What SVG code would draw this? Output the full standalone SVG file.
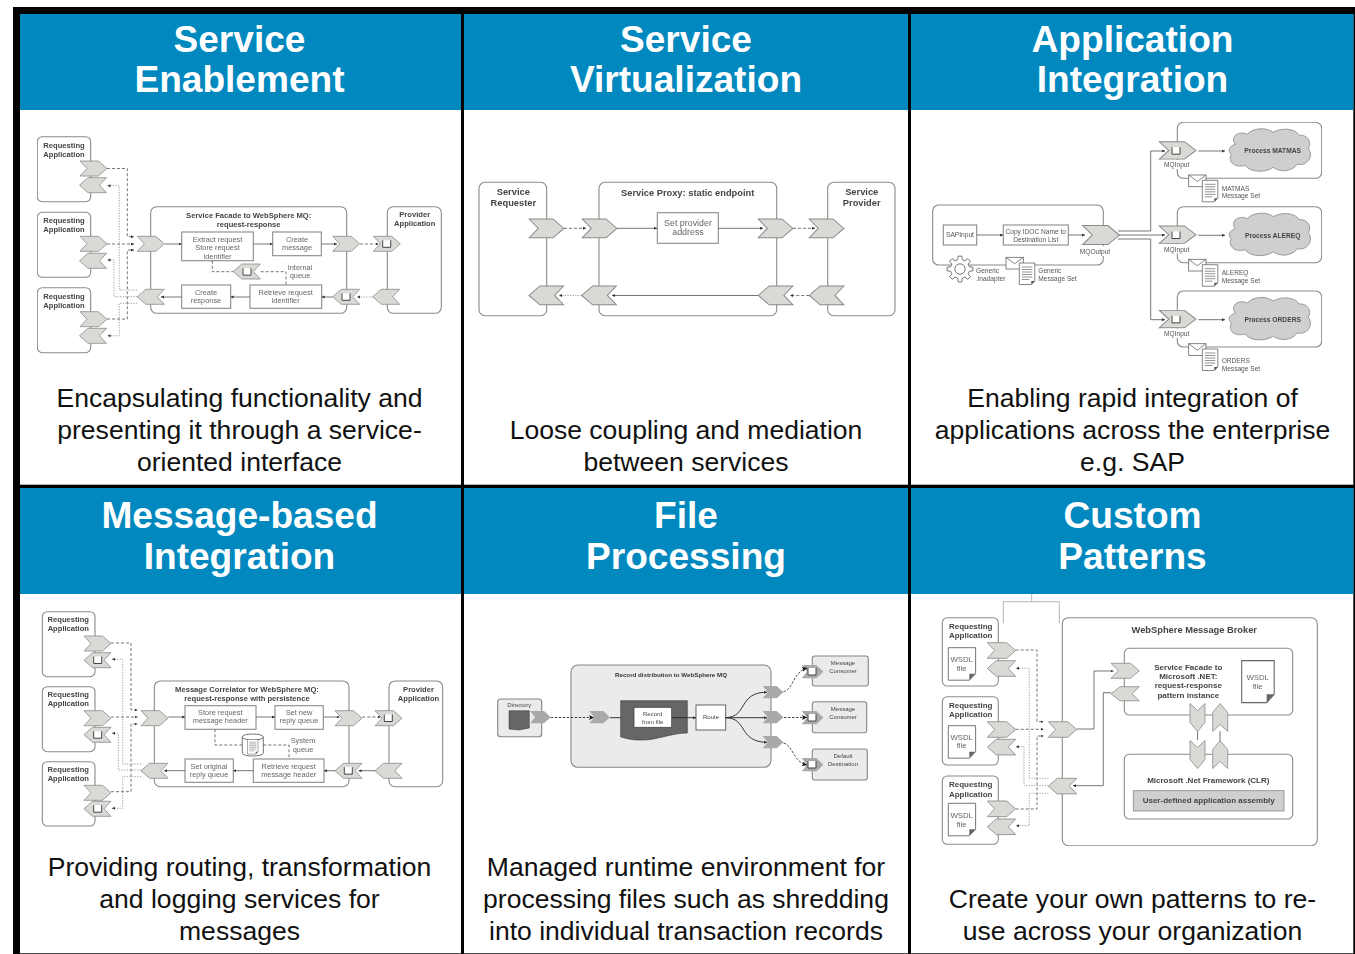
<svg xmlns="http://www.w3.org/2000/svg" width="1355" height="954" viewBox="0 0 1355 954">
<style>
text{font-family:"Liberation Sans",Arial,sans-serif;text-anchor:middle}
.h{font-size:37.1px;font-weight:700;fill:#fff}
.c{font-size:26.55px;fill:#111}
.t{font-size:7.4px;fill:#666}
.b{font-size:7.6px;font-weight:700;fill:#444}
.l{text-anchor:start}
.b2{font-size:9.3px;font-weight:700;fill:#444}
.t2{font-size:8.9px;fill:#666}
.t3{font-size:6.6px;fill:#555}
.b3{font-size:6.7px;font-weight:700;fill:#444}
.t5{font-size:6px;fill:#444}
.b5{font-size:6.2px;font-weight:700;fill:#333}
.b6{font-size:8px;font-weight:700;fill:#444}
.t6{font-size:7.8px;fill:#666}
.box{fill:#fff;stroke:#8a8a8a;stroke-width:1.1}
.lt{fill:#ebebeb;stroke:#858585;stroke-width:1.1}
.ln{fill:none;stroke:#666;stroke-width:.9}
.da{fill:none;stroke:#666;stroke-width:.9;stroke-dasharray:3 2}
.dt{fill:none;stroke:#888;stroke-width:.8;stroke-dasharray:1.2 1.4}
.k{fill:none;stroke:#222;stroke-width:.9}
.kd{fill:none;stroke:#333;stroke-width:.9;stroke-dasharray:2.5 1.5}
.ch{fill:#d9d9d6;stroke:#8a8a8a;stroke-width:.8}
.qi{fill:#fff;stroke:#444;stroke-width:1}
.gc{fill:#a9a9a9}
.cl{fill:#cfcfcf;stroke:#888;stroke-width:.8}
.w{fill:#fff}
</style>
<defs>
<filter id="soft" x="0" y="0" width="100%" height="100%"><feGaussianBlur stdDeviation="0.4"/></filter>
<marker id="a" markerUnits="userSpaceOnUse" markerWidth="4" markerHeight="4" refX="3" refY="1.5" orient="auto"><path d="M0 0L3 1.5L0 3Z" fill="#333"/></marker>
<marker id="A" markerUnits="userSpaceOnUse" markerWidth="6" markerHeight="6" refX="5" refY="2.5" orient="auto"><path d="M0 0L5 2.5L0 5L1.2 2.5Z" fill="#111"/></marker>
<path id="cr" class="ch" d="M0 0H18.5L27 7.5L18.5 15H0L7 7.5Z"/>
<path id="cl" class="ch" d="M27 0H8.5L0 7.5L8.5 15H27L20 7.5Z"/>
<path id="cd" class="ch" d="M0 0L7.5 7L15 0V19L7.5 28L0 19Z"/>
<path id="cu" class="ch" d="M0 28L7.5 21L15 28V9L7.5 0L0 9Z"/>
<path id="cg" class="gc" d="M0 0H14L20.7 6.2L14 12.3H0L5 6.2Z"/>
<path id="q" class="qi" d="M-4 -3.5V3.5H4V-3.5"/>
<g id="env"><rect width="17.3" height="11.7" fill="#fff" stroke="#666" stroke-width=".8"/><path d="M0 0L8.6 6.5L17.3 0" fill="none" stroke="#666" stroke-width=".8"/></g>
<g id="doc"><path d="M0 0H15.5V18L12 21.5H0Z" fill="#fff" stroke="#666" stroke-width=".8"/><path d="M12 21.5L12 18H15.5Z" fill="#555"/><path d="M2.5 4H13M2.5 6.5H13M2.5 9H13M2.5 11.5H13M2.5 14H13M2.5 16.5H10" stroke="#777" stroke-width=".8"/></g>
<g id="wsdl"><path d="M0 0H27.3V26L21 32.5H0Z" fill="#fff" stroke="#666" stroke-width=".9"/><path d="M21 32.5V26H27.3Z" fill="#666"/></g>
<path id="cloud" class="cl" d="M8 16C2 8 12 2 20 6C26 -1 40 -1 46 4C54 -1 68 0 72 7C80 6 85 14 81 20C87 28 80 38 70 36C64 44 52 44 46 39C38 45 22 44 18 37C8 40 0 34 4 26C0 22 2 18 8 16Z"/>
</defs>

<g id="frame">
<rect x="13" y="7" width="1342" height="947" fill="#000"/>
<g fill="#fff">
<rect x="20" y="14" width="441" height="470.7"/>
<rect x="464" y="14" width="444" height="470.7"/>
<rect x="911" y="14" width="442.3" height="470.7"/>
<rect x="20" y="488" width="441" height="465.3"/>
<rect x="464" y="488" width="444" height="465.3"/>
<rect x="911" y="488" width="442.3" height="465.3"/>
</g>
<g fill="#0088bf">
<rect x="20" y="14" width="441" height="96"/>
<rect x="464" y="14" width="444" height="96"/>
<rect x="911" y="14" width="442.3" height="96"/>
<rect x="20" y="488" width="441" height="106"/>
<rect x="464" y="488" width="444" height="106"/>
<rect x="911" y="488" width="442.3" height="106"/>
</g>
</g>

<g id="headers">
<text class="h" x="239.5" y="52">Service</text><text class="h" x="239.5" y="92">Enablement</text>
<text class="h" x="686" y="52">Service</text><text class="h" x="686" y="92">Virtualization</text>
<text class="h" x="1132.5" y="52">Application</text><text class="h" x="1132.5" y="92">Integration</text>
<text class="h" x="239.5" y="528">Message-based</text><text class="h" x="239.5" y="569">Integration</text>
<text class="h" x="686" y="528">File</text><text class="h" x="686" y="569">Processing</text>
<text class="h" x="1132.5" y="528">Custom</text><text class="h" x="1132.5" y="569">Patterns</text>
</g>
<g id="captions">
<text class="c" x="239.5" y="407">Encapsulating functionality and</text><text class="c" x="239.5" y="439">presenting it through a service-</text><text class="c" x="239.5" y="471">oriented interface</text>
<text class="c" x="686" y="439">Loose coupling and mediation</text><text class="c" x="686" y="471">between services</text>
<text class="c" x="1132.5" y="407">Enabling rapid integration of</text><text class="c" x="1132.5" y="439">applications across the enterprise</text><text class="c" x="1132.5" y="471">e.g. SAP</text>
<text class="c" x="239.5" y="876">Providing routing, transformation</text><text class="c" x="239.5" y="908">and logging services for</text><text class="c" x="239.5" y="940">messages</text>
<text class="c" x="686" y="876">Managed runtime environment for</text><text class="c" x="686" y="908">processing files such as shredding</text><text class="c" x="686" y="940">into individual transaction records</text>
<text class="c" x="1132.5" y="908">Create your own patterns to re-</text><text class="c" x="1132.5" y="940">use across your organization</text>
</g>

<g id="diagrams" filter="url(#soft)">
<!-- Panel 1 -->
<g id="p1-connectors">
<path class="da" marker-end="url(#a)" d="M107 168.5H127.3V236.7H134"/>
<path class="da" marker-end="url(#a)" d="M107 244H134"/>
<path class="da" marker-end="url(#a)" d="M107 319H127.3V250H134"/>
<path class="dt" marker-end="url(#a)" d="M137 290H119.3V185.7H107.5"/>
<path class="dt" marker-end="url(#a)" d="M137 296.7H114V260H107.5"/>
<path class="dt" marker-end="url(#a)" d="M137 303.3H119.3V335.7H107.5"/>
</g>
<g id="p1-req1"><rect class="box" x="37.3" y="136.7" width="53.4" height="65" rx="5"/><text class="b" x="64" y="147.5">Requesting</text><text class="b" x="64" y="156.5">Application</text><use href="#cr" x="80" y="161"/><use href="#cl" x="79.5" y="177.7"/></g>
<g id="p1-req2"><rect class="box" x="37.3" y="212.3" width="53.4" height="65" rx="5"/><text class="b" x="64" y="223">Requesting</text><text class="b" x="64" y="232">Application</text><use href="#cr" x="80" y="236.3"/><use href="#cl" x="79.5" y="253.3"/></g>
<g id="p1-req3"><rect class="box" x="37.3" y="287.7" width="53.4" height="65" rx="5"/><text class="b" x="64" y="298.5">Requesting</text><text class="b" x="64" y="307.5">Application</text><use href="#cr" x="80" y="311.7"/><use href="#cl" x="79.5" y="328.3"/></g>
<g id="p1-facade"><rect class="box" x="150.7" y="206.7" width="196" height="106.6" rx="6"/><text class="b" x="248.7" y="217.7">Service Facade to WebSphere MQ:</text><text class="b" x="248.7" y="226.7">request-response</text><use href="#cr" x="137.3" y="236.3"/><use href="#cl" x="137.3" y="289.3"/><use href="#cr" x="332.7" y="236.3"/></g>
<g id="p1-provider"><rect class="box" x="387.3" y="206.7" width="54" height="106.6" rx="6"/><text class="b" x="414.7" y="217.3">Provider</text><text class="b" x="414.7" y="226.3">Application</text><use href="#cr" x="373.3" y="236.3"/><use href="#q" x="386.7" y="243.8"/><use href="#cl" x="372.7" y="289.3"/></g>
<g id="p1-extract"><rect class="box" x="181.7" y="232" width="71.6" height="28.7"/><text class="t" x="217.5" y="241.7">Extract request</text><text class="t" x="217.5" y="250">Store request</text><text class="t" x="217.5" y="258.5">identifier</text></g>
<g id="p1-create"><rect class="box" x="272.7" y="232" width="48.6" height="23.7"/><text class="t" x="297" y="241.7">Create</text><text class="t" x="297" y="250">message</text></g>
<g id="p1-retrieve"><rect class="box" x="250" y="285" width="71.7" height="23.3"/><text class="t" x="285.7" y="295">Retrieve request</text><text class="t" x="285.7" y="303">identifier</text></g>
<g id="p1-response"><rect class="box" x="181.7" y="285" width="49" height="23.3"/><text class="t" x="206" y="295">Create</text><text class="t" x="206" y="303">response</text></g>
<g id="p1-internal"><use href="#cl" x="233.3" y="264"/><use href="#q" x="247" y="271.7"/><text class="t" x="300" y="270">Internal</text><text class="t" x="300" y="278.3">queue</text></g>
<g id="p1-qin"><use href="#cl" x="332.7" y="289.3"/><use href="#q" x="346" y="296.8"/></g>
<g id="p1-links">
<path class="ln" marker-end="url(#a)" d="M165 244H181.7"/>
<path class="ln" marker-end="url(#a)" d="M253.3 244H272.7"/>
<path class="ln" marker-end="url(#a)" d="M321.3 244H337"/>
<path class="da" marker-end="url(#a)" d="M360 244H378.5"/>
<path class="dt" marker-end="url(#a)" d="M372.7 297H357"/>
<path class="ln" marker-end="url(#a)" d="M332.7 297H321.7"/>
<path class="ln" marker-end="url(#a)" d="M250 297H230.7"/>
<path class="ln" marker-end="url(#a)" d="M181.7 297H161"/>
<path class="da" d="M212.3 260.7V271.7H233.3"/>
<path class="da" d="M260.7 271.7H286V285"/>
</g>

<!-- Panel 2 -->
<g id="p2-requester"><rect class="box" x="479" y="182.3" width="67.7" height="133.4" rx="6"/><text class="b2" x="513.3" y="194.5">Service</text><text class="b2" x="513.3" y="205.5">Requester</text><use href="#cr" transform="translate(529.3 219) scale(1.28 1.25)"/><use href="#cl" transform="translate(529 286) scale(1.28 1.25)"/></g>
<g id="p2-proxy"><rect class="box" x="599" y="182.3" width="177.7" height="133.4" rx="6"/><text class="b2" x="687.7" y="196">Service Proxy: static endpoint</text><use href="#cr" transform="translate(582.3 219) scale(1.28 1.25)"/><use href="#cl" transform="translate(581.7 286) scale(1.28 1.25)"/><use href="#cr" transform="translate(758.3 219) scale(1.28 1.25)"/><use href="#cl" transform="translate(758.3 286) scale(1.28 1.25)"/></g>
<g id="p2-provider"><rect class="box" x="827.7" y="182.3" width="67.3" height="133.4" rx="6"/><text class="b2" x="861.7" y="194.5">Service</text><text class="b2" x="861.7" y="205.5">Provider</text><use href="#cr" transform="translate(809.3 219) scale(1.28 1.25)"/><use href="#cl" transform="translate(809.3 286) scale(1.28 1.25)"/></g>
<g id="p2-set"><rect class="box" x="657.3" y="212.7" width="61" height="30.6"/><text class="t2" x="688" y="225.6">Set provider</text><text class="t2" x="688" y="235.2">address</text></g>
<g id="p2-connectors">
<path class="da" marker-end="url(#a)" d="M564 228.3H586"/>
<path class="ln" marker-end="url(#a)" d="M617 228.3H657"/>
<path class="ln" marker-end="url(#a)" d="M718.3 228.3H763"/>
<path class="da" marker-end="url(#a)" d="M793 228.3H815"/>
<path class="dt" marker-end="url(#a)" d="M581.7 295.5H559"/>
<path class="ln" marker-end="url(#a)" d="M758.3 295.5H612"/>
<path class="da" marker-end="url(#a)" d="M809.3 295.5H790"/>
</g>

<!-- Panel 3 -->
<g id="p3-connectors">
<path class="ln" marker-end="url(#a)" d="M1118 231H1150.7V151H1165"/>
<path class="ln" marker-end="url(#a)" d="M1118 235H1165"/>
<path class="ln" marker-end="url(#a)" d="M1118 239H1150.7V319.7H1165"/>
</g>
<g id="p3-source"><rect class="box" x="932.7" y="205" width="170.6" height="60" rx="6"/></g>
<g id="p3-sapinput"><rect class="box" x="943.3" y="225" width="33.4" height="20"/><text class="t3" x="960" y="237">SAPInput</text></g>
<g id="p3-copy"><rect class="box" x="1003.3" y="225" width="65" height="20"/><text class="t3" x="1035.7" y="233.7">Copy IDOC Name to</text><text class="t3" x="1035.7" y="241.7">Destination List</text></g>
<g id="p3-mqoutput"><use href="#cr" transform="translate(1082.7 225.5) scale(1.36 1.27)"/><rect class="w" x="1083" y="246" width="28" height="10"/><text class="t3" x="1095" y="254">MQOutput</text></g>
<g id="p3-gear"><path fill="#fff" stroke="#666" stroke-width=".9" d="M9.22 -2.3L12.87 -1.81L12.87 1.81L9.22 2.3L8.14 4.89L10.38 7.82L7.82 10.38L4.89 8.14L2.3 9.22L1.81 12.87L-1.81 12.87L-2.3 9.22L-4.89 8.14L-7.82 10.38L-10.38 7.82L-8.14 4.89L-9.22 2.3L-12.87 1.81L-12.87 -1.81L-9.22 -2.3L-8.14 -4.89L-10.38 -7.82L-7.82 -10.38L-4.89 -8.14L-2.3 -9.22L-1.81 -12.87L1.81 -12.87L2.3 -9.22L4.89 -8.14L7.82 -10.38L10.38 -7.82L8.14 -4.89Z" transform="translate(960 269)"/><circle cx="960" cy="269" r="5.2" fill="#fff" stroke="#666" stroke-width=".9"/><text class="t3 l" x="976" y="272.7">Generic</text><text class="t3 l" x="976" y="280.7">.inadapter</text></g>
<g id="p3-msgset"><use href="#env" x="1006" y="257.3"/><use href="#doc" x="1019.3" y="263"/><text class="t3 l" x="1038.3" y="272.7">Generic</text><text class="t3 l" x="1038.3" y="280.7">Message Set</text></g>
<g id="p3-matmas"><rect class="box" x="1177.3" y="122.3" width="144.4" height="56" rx="6"/><use href="#cr" transform="translate(1159.3 141.7) scale(1.36 1.16)"/><use href="#q" x="1176" y="150.7"/><rect class="w" x="1163" y="160" width="28" height="9"/><text class="t3" x="1176.7" y="167.3">MQInput</text><use href="#cloud" x="1227.3" y="128.3"/><text class="b3" x="1272.7" y="153">Process MATMAS</text><use href="#env" x="1188.7" y="175"/><use href="#doc" x="1202.3" y="180.3"/><text class="t3 l" x="1221.7" y="190.7">MATMAS</text><text class="t3 l" x="1221.7" y="198.3">Message Set</text></g>
<g id="p3-alereq"><rect class="box" x="1177.3" y="206.7" width="144.4" height="56" rx="6"/><use href="#cr" transform="translate(1159.3 226) scale(1.36 1.16)"/><use href="#q" x="1176" y="235"/><rect class="w" x="1163" y="244.4" width="28" height="9"/><text class="t3" x="1176.7" y="251.7">MQInput</text><use href="#cloud" x="1227.3" y="212.7"/><text class="b3" x="1272.7" y="237.5">Process ALEREQ</text><use href="#env" x="1188.7" y="259.3"/><use href="#doc" x="1202.3" y="264.7"/><text class="t3 l" x="1221.7" y="275">ALEREQ</text><text class="t3 l" x="1221.7" y="282.7">Message Set</text></g>
<g id="p3-orders"><rect class="box" x="1177.3" y="291" width="144.4" height="56" rx="6"/><use href="#cr" transform="translate(1159.3 310.4) scale(1.36 1.16)"/><use href="#q" x="1176" y="319.4"/><rect class="w" x="1163" y="328.7" width="28" height="9"/><text class="t3" x="1176.7" y="336">MQInput</text><use href="#cloud" x="1227.3" y="297"/><text class="b3" x="1272.7" y="322">Process ORDERS</text><use href="#env" x="1188.7" y="343.7"/><use href="#doc" x="1202.3" y="349"/><text class="t3 l" x="1221.7" y="363">ORDERS</text><text class="t3 l" x="1221.7" y="371">Message Set</text></g>
<g id="p3-links">
<path class="ln" marker-end="url(#a)" d="M976.7 235H1003"/>
<path class="ln" marker-end="url(#a)" d="M1068.3 235H1085"/>
<path class="ln" marker-end="url(#a)" d="M1198.3 151H1225"/>
<path class="ln" marker-end="url(#a)" d="M1198.3 235.3H1225"/>
<path class="ln" marker-end="url(#a)" d="M1198.3 319.7H1225"/>
</g>

<!-- Panel 4 -->
<g id="p4-connectors">
<path class="da" marker-end="url(#a)" d="M111 643H131V710H137.5"/>
<path class="da" marker-end="url(#a)" d="M111 717H137.5"/>
<path class="da" marker-end="url(#a)" d="M111 791.7H131V724H137.5"/>
<path class="dt" marker-end="url(#a)" d="M141 764H122.7V659.3H112"/>
<path class="dt" marker-end="url(#a)" d="M141 770H118.3V733.3H112"/>
<path class="dt" marker-end="url(#a)" d="M141 776.7H122.7V808.3H112"/>
</g>
<g id="p4-req1"><rect class="box" x="42.3" y="611.7" width="52.7" height="65" rx="5"/><text class="b" x="68.3" y="621.7">Requesting</text><text class="b" x="68.3" y="630.7">Application</text><use href="#cr" x="84" y="636"/><use href="#cl" x="84" y="652.7"/><use href="#q" x="97.7" y="660"/></g>
<g id="p4-req2"><rect class="box" x="42.3" y="686.7" width="52.7" height="65" rx="5"/><text class="b" x="68.3" y="696.7">Requesting</text><text class="b" x="68.3" y="705.7">Application</text><use href="#cr" x="84" y="710.7"/><use href="#cl" x="84" y="727.3"/><use href="#q" x="97.7" y="734.7"/></g>
<g id="p4-req3"><rect class="box" x="42.3" y="761.7" width="52.7" height="64.3" rx="5"/><text class="b" x="68.3" y="771.7">Requesting</text><text class="b" x="68.3" y="780.7">Application</text><use href="#cr" x="84" y="785.3"/><use href="#cl" x="84" y="801.3"/><use href="#q" x="97.7" y="808.7"/></g>
<g id="p4-correlator"><rect class="box" x="154.3" y="681" width="194.7" height="105.7" rx="6"/><text class="b" x="247" y="691.7">Message Correlator for WebSphere MQ:</text><text class="b" x="247" y="700.7">request-response with persistence</text><use href="#cr" x="141" y="710.7"/><use href="#cl" x="141" y="763.3"/><use href="#cr" x="335" y="710.7"/><use href="#cl" x="335" y="763.3"/><use href="#q" x="348.3" y="770.7"/></g>
<g id="p4-provider"><rect class="box" x="389" y="681" width="53.7" height="105.7" rx="6"/><text class="b" x="418.5" y="691.7">Provider</text><text class="b" x="418.5" y="700.7">Application</text><use href="#cr" x="375" y="710.7"/><use href="#q" x="388.3" y="718"/><use href="#cl" x="375" y="763.3"/></g>
<g id="p4-store"><rect class="box" x="185" y="705.7" width="71" height="23.6"/><text class="t" x="220.3" y="715.3">Store request</text><text class="t" x="220.3" y="723.3">message header</text></g>
<g id="p4-setnew"><rect class="box" x="275" y="705.7" width="48.3" height="23.6"/><text class="t" x="299" y="715.3">Set new</text><text class="t" x="299" y="723.3">reply queue</text></g>
<g id="p4-retrieve"><rect class="box" x="253.3" y="759" width="70.7" height="23.3"/><text class="t" x="288.7" y="768.7">Retrieve request</text><text class="t" x="288.7" y="776.7">message header</text></g>
<g id="p4-setorig"><rect class="box" x="185" y="759" width="48.3" height="23.3"/><text class="t" x="209" y="768.7">Set original</text><text class="t" x="209" y="776.7">reply queue</text></g>
<g id="p4-db"><path d="M242.3 737V753C242.3 757 263.3 757 263.3 753V737C263.3 733 242.3 733 242.3 737Z" fill="#fff" stroke="#666" stroke-width=".9"/><path d="M242.3 737C242.3 741 263.3 741 263.3 737" fill="none" stroke="#666" stroke-width=".9"/><use href="#doc" transform="translate(247.5 739.5) scale(.68 .68)"/><text class="t" x="303" y="743.3">System</text><text class="t" x="303" y="751.7">queue</text></g>
<g id="p4-links">
<path class="ln" marker-end="url(#a)" d="M168.3 717H185"/>
<path class="ln" marker-end="url(#a)" d="M256 717H275"/>
<path class="ln" marker-end="url(#a)" d="M323.3 717H339.5"/>
<path class="da" marker-end="url(#a)" d="M362.3 717H380.5"/>
<path class="ln" marker-end="url(#a)" d="M375 770.7H358.5"/>
<path class="ln" marker-end="url(#a)" d="M335 770.7H324"/>
<path class="ln" marker-end="url(#a)" d="M253.3 770.7H233.3"/>
<path class="ln" marker-end="url(#a)" d="M185 770.7H164"/>
<path class="da" d="M215 729.3V745H242.3"/>
<path class="da" d="M263.3 745H289V759"/>
</g>

<!-- Panel 5 -->
<g id="p5-directory"><rect class="lt" x="497.7" y="699" width="44" height="37.7" rx="3"/><text class="t5" x="519.3" y="707.3">Directory</text><path d="M509 710.7H529.3V728L519 730L509 729Z" fill="#666" stroke="#333" stroke-width=".5"/><use href="#cg" x="530" y="711"/></g>
<g id="p5-main"><rect class="lt" x="571" y="665" width="200" height="102.3" rx="7"/><text class="b5" x="671" y="676.7">Record distribution to WebSphere MQ</text><use href="#cg" x="589.3" y="711"/><use href="#cg" x="762.7" y="686"/><use href="#cg" x="762.7" y="711"/><use href="#cg" x="762.7" y="736"/></g>
<g id="p5-record"><path d="M620.7 700.7H687.3V733C671 733 655 741 640 740C630 740 626 738 620.7 737Z" fill="#666" stroke="#333" stroke-width=".6"/><rect x="634" y="707.3" width="37.7" height="20" fill="#fff" stroke="#444" stroke-width=".8"/><text class="t5" x="652.7" y="715.7">Record</text><text class="t5" x="652.7" y="724">from file</text></g>
<g id="p5-route"><rect x="696" y="705" width="29.7" height="25" fill="#fff" stroke="#555" stroke-width=".9"/><text class="t5" x="711" y="719.3">Route</text></g>
<g id="p5-consumer1"><rect class="lt" x="812.3" y="656" width="56" height="30" rx="2.5"/><text class="t5" x="843" y="665">Message</text><text class="t5" x="843" y="673.3">Consumer</text><use href="#cg" transform="translate(801.7 665) scale(1.05 1.08)"/><use href="#q" x="812" y="671.5"/></g>
<g id="p5-consumer2"><rect class="lt" x="812.3" y="701.7" width="54.4" height="31" rx="2.5"/><text class="t5" x="843" y="711">Message</text><text class="t5" x="843" y="719.3">Consumer</text><use href="#cg" transform="translate(801.7 711) scale(1.05 1.08)"/><use href="#q" x="812" y="717.5"/></g>
<g id="p5-default"><rect class="lt" x="812.3" y="749" width="55" height="31" rx="2.5"/><text class="t5" x="843" y="757.7">Default</text><text class="t5" x="843" y="765.7">Destination</text><use href="#cg" transform="translate(801.7 758) scale(1.05 1.08)"/><use href="#q" x="812" y="764.5"/></g>
<g id="p5-connectors">
<path class="k" d="M610 717.7H620.7"/>
<path class="kd" marker-end="url(#A)" d="M550.7 717.5H594"/>
<path class="k" marker-end="url(#a)" d="M671.7 717.7H696"/>
<path class="k" marker-end="url(#a)" d="M725.7 717.7C748 717 738 692 767 692.3"/>
<path class="k" marker-end="url(#a)" d="M725.7 717.7H767"/>
<path class="k" marker-end="url(#a)" d="M725.7 717.7C748 718 738 742 767 742.3"/>
<path class="kd" marker-end="url(#A)" d="M783.5 691.7C793 690 793 672 807 668"/>
<path class="kd" marker-end="url(#A)" d="M784 717.5H807"/>
<path class="kd" marker-end="url(#A)" d="M783.5 743C793 745 793 762 807 765"/>
</g>

<!-- Panel 6 -->
<g id="p6-stray"><path fill="none" stroke="#aaa" stroke-width=".9" d="M1031.7 594V601.7M1003.3 623.3V601.7H1059.3V623.3"/></g>
<g id="p6-connectors">
<path class="da" marker-end="url(#a)" d="M1015.7 650H1037V721.7H1043.5"/>
<path class="da" marker-end="url(#a)" d="M1015.7 729.3H1043.5"/>
<path class="da" marker-end="url(#a)" d="M1015.7 809H1037V736H1043.5"/>
<path class="dt" marker-end="url(#a)" d="M1048.3 778.3H1029.3V668.3H1016"/>
<path class="dt" marker-end="url(#a)" d="M1048.3 785.7H1024V746.7H1016"/>
<path class="dt" marker-end="url(#a)" d="M1048.3 793.3H1029.3V825.7H1016"/>
</g>
<g id="p6-req1"><rect class="box" x="942.3" y="617.7" width="56" height="68.3" rx="5"/><text class="b6" x="970.7" y="629">Requesting</text><text class="b6" x="970.7" y="638.3">Application</text><use href="#wsdl" x="948.3" y="647.7"/><text class="t6" x="961.7" y="662.3">WSDL</text><text class="t6" x="961.7" y="671">file</text><use href="#cr" transform="translate(987.3 642.7) scale(1.05 1.04)"/><use href="#cl" transform="translate(987.3 660.7) scale(1.05 1.04)"/></g>
<g id="p6-req2"><rect class="box" x="942.3" y="696.7" width="56" height="68.3" rx="5"/><text class="b6" x="970.7" y="707.7">Requesting</text><text class="b6" x="970.7" y="717">Application</text><use href="#wsdl" x="948.3" y="725.7"/><text class="t6" x="961.7" y="740">WSDL</text><text class="t6" x="961.7" y="748.3">file</text><use href="#cr" transform="translate(987.3 721.7) scale(1.05 1.04)"/><use href="#cl" transform="translate(987.3 739.3) scale(1.05 1.04)"/></g>
<g id="p6-req3"><rect class="box" x="942.3" y="776" width="56" height="68.3" rx="5"/><text class="b6" x="970.7" y="787">Requesting</text><text class="b6" x="970.7" y="796.7">Application</text><use href="#wsdl" x="948.3" y="803.3"/><text class="t6" x="961.7" y="817.7">WSDL</text><text class="t6" x="961.7" y="826.7">file</text><use href="#cr" transform="translate(987.3 801) scale(1.05 1.04)"/><use href="#cl" transform="translate(987.3 819) scale(1.05 1.04)"/></g>
<g id="p6-broker"><rect class="box" x="1062.3" y="617.7" width="255" height="228" rx="6"/><text class="b2" x="1194.3" y="632.7">WebSphere Message Broker</text><use href="#cr" transform="translate(1048.3 721.7) scale(1.05 1.04)"/><use href="#cl" transform="translate(1048.3 778.3) scale(1.05 1.04)"/></g>
<g id="p6-links">
<path class="ln" marker-end="url(#a)" d="M1076.7 729H1094V671H1113.5"/>
<path class="ln" marker-end="url(#a)" d="M1111 692.7H1103.3V785.7H1073"/>
</g>
<g id="p6-facade"><rect class="box" x="1124.3" y="648.3" width="168.4" height="66.7" rx="5"/><text class="b6" x="1188.3" y="670">Service Facade to</text><text class="b6" x="1188.3" y="679">Microsoft .NET:</text><text class="b6" x="1188.3" y="688.3">request-response</text><text class="b6" x="1188.3" y="698">pattern instance</text><use href="#cr" transform="translate(1111 663.3) scale(1.05 1)"/><use href="#cl" transform="translate(1111 686.7) scale(1.05 .94)"/><use href="#wsdl" transform="translate(1241.7 660.7) scale(1.19 1.29)"/><text class="t6" x="1257.7" y="680">WSDL</text><text class="t6" x="1257.7" y="689">file</text></g>
<g id="p6-clr"><rect class="box" x="1124.3" y="754.3" width="168.4" height="64.7" rx="5"/><text class="b6" x="1208.3" y="782.7">Microsoft .Net Framework (CLR)</text><rect x="1133.3" y="790.7" width="150.7" height="20.3" fill="#cfcfcf" stroke="#888" stroke-width=".8"/><text class="b6" x="1208.7" y="802.7">User-defined application assembly</text></g>
<g id="p6-vlinks">
<path class="ln" d="M1197.5 730V740M1220 731V741"/>
<use href="#cd" x="1190" y="703.5"/><use href="#cu" x="1212.7" y="703.5"/><use href="#cd" x="1190" y="740.5"/><use href="#cu" x="1212.7" y="740.5"/>
</g>
</g>
</svg>
